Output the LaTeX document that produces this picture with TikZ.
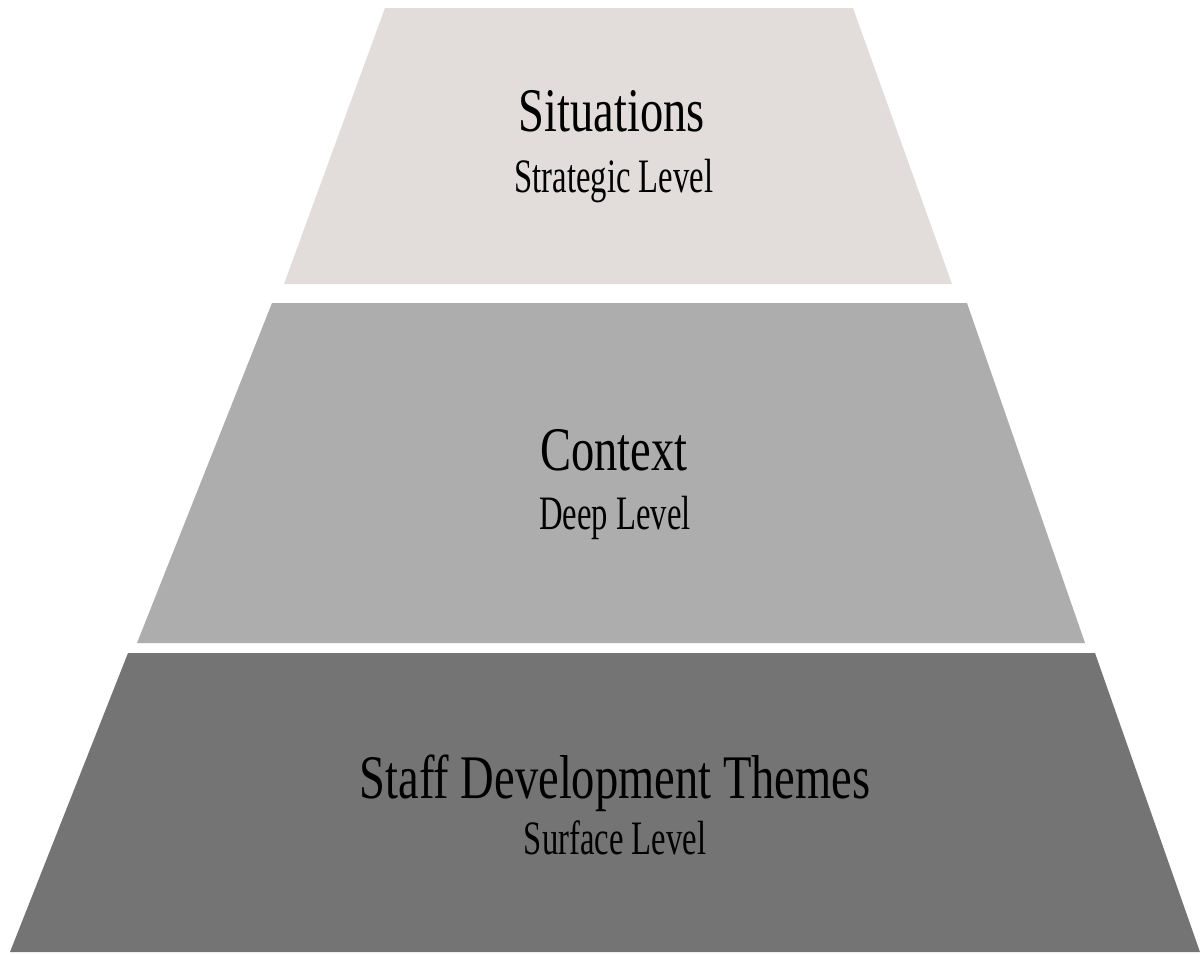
\documentclass[tikz,border=0pt]{standalone}
\usepackage{fontspec}
\setmainfont{Liberation Serif}
\definecolor{tierTop}{RGB}{226,220,219}
\definecolor{tierMid}{RGB}{173,173,173}
\definecolor{tierBot}{RGB}{116,116,116}
\begin{document}
\begin{tikzpicture}[x=0.5pt,y=0.5pt,yscale=-1,xscale=1,
  title/.style={anchor=base,inner sep=0pt,xscale=0.75,font=\fontsize{31}{36}\selectfont},
  sublabel/.style={anchor=base,inner sep=0pt,xscale=0.68,font=\fontsize{24}{28}\selectfont}]
\useasboundingbox (0,0) rectangle (1204,954); %set diagram to the size of the page

%Shape: Trapezoid [top tier]
\fill [tierTop]  (385,8) -- (853,8) -- (952,284) -- (284,284) -- cycle ;
%Shape: Trapezoid [middle tier]
\fill [tierMid]  (272,303) -- (967,303) -- (1085,643) -- (137,643) -- cycle ;
%Shape: Trapezoid [bottom tier]
\fill [tierBot]  (128,653) -- (1095,653) -- (1200,952) -- (10,952) -- cycle ;

% Text Node
\draw (612,131) node (situations) [title] {Situations};
% Text Node
\draw (614,192) node (strategic) [sublabel] {Strategic Level};
% Text Node
\draw (614,470) node (context) [title] {Context};
% Text Node
\draw (615,529) node (deep) [sublabel] {Deep Level};
% Text Node
\draw (615,798) node (themes) [title] {Staff Development Themes};
% Text Node
\draw (615,854) node (surface) [sublabel] {Surface Level};

\end{tikzpicture}
\end{document}
